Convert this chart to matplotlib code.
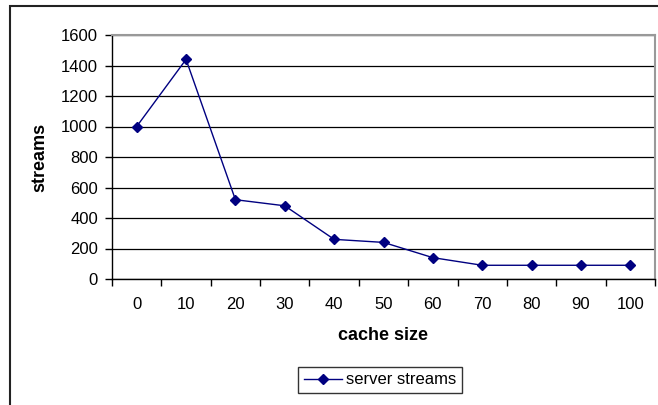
import matplotlib.pyplot as plt
from matplotlib.patches import Rectangle
from matplotlib import rcParams
rcParams.update({"font.family": ["Liberation Sans", "DejaVu Sans"], "font.size": 12})

CACHE_SIZE = ["0", "10", "20", "30", "40", "50", "60", "70", "80", "90", "100"]
SERVER_STREAMS = [1000, 1440, 520, 480, 260, 240, 140, 90, 90, 90, 90]
Y_TICKS = [0, 200, 400, 600, 800, 1000, 1200, 1400, 1600]
NAVY = "#000080"


def main():
    W, H = 658, 405
    fig = plt.figure(figsize=(W / 100, H / 100), dpi=100)

    # outer chart frame, cut off at right and bottom like the reference
    fig.patches.append(Rectangle((10 / W, -0.1), 1.2, 1 - 6 / H + 0.1,
                                 transform=fig.transFigure, fill=False,
                                 edgecolor="#222222", linewidth=1.5))

    left, right, top, bottom = 112, 655, 35, 279
    ax = fig.add_axes([left / W, 1 - bottom / H, (right - left) / W, (bottom - top) / H])

    x = list(range(len(CACHE_SIZE)))
    ax.plot(x, SERVER_STREAMS, color=NAVY, linewidth=1.0, marker="D",
            markersize=5.5, label="server streams")

    ax.set_xlim(-0.5, len(CACHE_SIZE) - 0.5)
    ax.set_ylim(0, 1600)
    ax.set_yticks(Y_TICKS)
    ax.set_xticks([i + 0.5 for i in range(-1, len(CACHE_SIZE))])
    ax.set_xticklabels([])
    ax.set_xticks(x, minor=True)
    ax.set_xticklabels(CACHE_SIZE, minor=True)
    ax.tick_params(axis="x", which="major", direction="out", length=5, width=1, color="black")
    ax.tick_params(axis="x", which="minor", length=0, pad=13)
    ax.tick_params(axis="y", direction="out", length=5, width=1, pad=5)

    ax.grid(axis="y", color="black", linewidth=0.9)
    ax.set_axisbelow(True)
    for side in ["top", "right"]:
        ax.spines[side].set_color("#999999")
        ax.spines[side].set_linewidth(1.5)
    ax.spines["left"].set_linewidth(1.0)
    ax.spines["bottom"].set_linewidth(1.0)

    ax.set_xlabel("cache size", fontweight="bold", fontsize=13, labelpad=11)
    ax.set_ylabel("streams", fontweight="bold", fontsize=13, labelpad=9)

    leg = ax.legend(loc="center", bbox_to_anchor=(380 / W, 1 - 380 / H),
                    bbox_transform=fig.transFigure, frameon=True, fancybox=False,
                    edgecolor="black", handlelength=2.3, borderpad=0.35,
                    handletextpad=0.2)
    leg.get_frame().set_linewidth(1.0)

    fig.savefig("out.png", dpi=100)


if __name__ == "__main__":
    main()
